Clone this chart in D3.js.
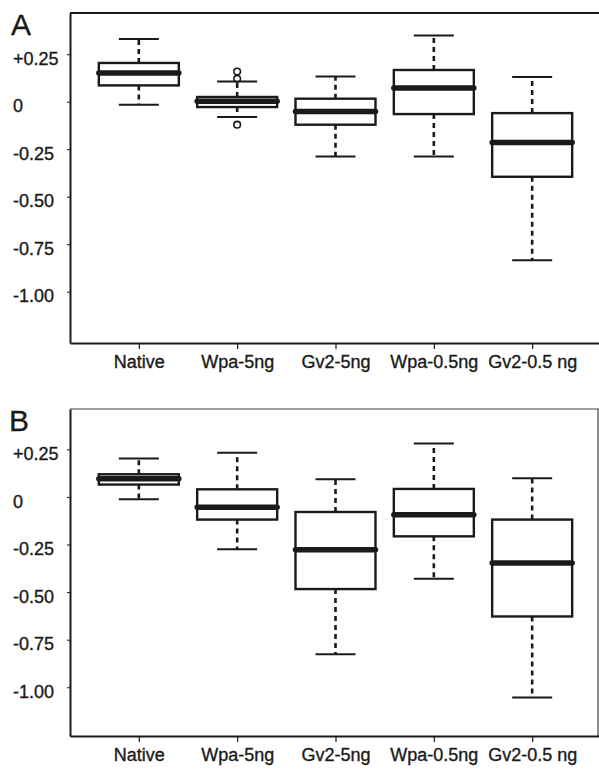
<!DOCTYPE html>
<html lang="en">
<head>
<meta charset="UTF-8">
<title>Boxplots A/B</title>
<style>
html,body{margin:0; width:599px; height:771px; overflow:hidden; background:#fff; font-family:Arial, "Liberation Sans", Helvetica, sans-serif;}
svg{display:block;}
</style>
</head>
<body>
<svg width="599" height="771"></svg>
<script src="https://d3js.org/d3.v7.min.js"></script>
<script>
const categories = ["Native","Wpa-5ng","Gv2-5ng","Wpa-0.5ng","Gv2-0.5 ng"];
const tickValues = [0.25, 0, -0.25, -0.5, -0.75, -1];
const tickLabels = ["+0.25","0","-0.25","-0.50","-0.75","-1.00"];

// [lower whisker, Q1, median, Q3, upper whisker]
const statsA = [
  [-0.016, 0.086, 0.151, 0.204, 0.330],
  [-0.081, -0.028, 0.002, 0.025, 0.107],
  [-0.288, -0.121, -0.051, 0.016, 0.133],
  [-0.288, -0.065, 0.072, 0.167, 0.349],
  [-0.835, -0.395, -0.214, -0.060, 0.130]
];
const outliersA = [[], [0.159, 0.121, -0.121], [], [], []];

const statsB = [
  [-0.012, 0.065, 0.095, 0.119, 0.202],
  [-0.275, -0.119, -0.054, 0.040, 0.232],
  [-0.826, -0.484, -0.277, -0.079, 0.093],
  [-0.430, -0.207, -0.093, 0.042, 0.281],
  [-1.054, -0.628, -0.347, -0.119, 0.098]
];
const outliersB = [[], [], [], [], []];

const svg = d3.select("svg");
const ink = "#1a1a1a";
const font = "Arial, 'Liberation Sans', sans-serif";

// R-style x limits: 0.5..5.5 widened by 4%
const x = d3.scaleLinear().domain([0.3, 5.7]).range([70, 601]);
const boxHalf = 40, capHalf = 20;

function panel(letter, stats, outliers, top, bottom, yDomain, rightBorder){
  const y = d3.scaleLinear().domain(yDomain).range([bottom, top]);
  const g = svg.append("g");

  g.append("text").attr("x", letter === "A" ? 11 : 9).attr("y", top + 22)
    .attr("fill", ink).attr("stroke", ink).attr("stroke-width", 0.3)
    .style("font-size", "30px").style("font-family", font).text(letter);

  // frame
  g.append("line").attr("x1", x.range()[0]).attr("x2", x.range()[1])
    .attr("y1", top).attr("y2", top)
    .attr("stroke", rightBorder ? "#444" : ink).attr("stroke-width", rightBorder ? 1.2 : 2);
  if(rightBorder){
    g.append("line").attr("x1", 598).attr("x2", 598).attr("y1", top).attr("y2", bottom)
      .attr("stroke", "#444").attr("stroke-width", 1.2);
  }

  const yAxis = g.append("g").attr("transform", `translate(${x.range()[0]},0)`)
    .call(d3.axisLeft(y).tickValues(tickValues).tickSize(3).tickSizeOuter(0)
      .tickFormat((d, i) => tickLabels[i]));
  yAxis.select(".domain").attr("stroke", ink).attr("stroke-width", 2);
  yAxis.selectAll(".tick line").attr("stroke", ink).attr("stroke-width", 1);
  yAxis.selectAll("text").attr("fill", ink).attr("stroke", ink).attr("stroke-width", 0.35)
    .attr("text-anchor", "start").attr("x", -57).attr("dy", "0.56em")
    .style("font-size", "18px").style("font-family", font);

  const xAxis = g.append("g").attr("transform", `translate(0,${bottom})`)
    .call(d3.axisBottom(x).tickValues([1,2,3,4,5]).tickSize(6).tickSizeOuter(0).tickPadding(6)
      .tickFormat((d, i) => categories[i]));
  xAxis.select(".domain").attr("stroke", ink).attr("stroke-width", 2);
  xAxis.selectAll(".tick line").attr("stroke", ink).attr("stroke-width", 1.2);
  xAxis.selectAll("text").attr("fill", ink).attr("stroke", ink).attr("stroke-width", 0.35)
    .style("font-size", "18px").style("font-family", font);

  const box = g.selectAll("g.box").data(stats).join("g").attr("class", "box")
    .attr("transform", (d, i) => `translate(${x(i + 1)},0)`);

  // whiskers
  box.append("line").attr("y1", d => y(d[3])).attr("y2", d => y(d[4]))
    .attr("stroke", ink).attr("stroke-width", 2.6).attr("stroke-dasharray", "5,4");
  box.append("line").attr("y1", d => y(d[1])).attr("y2", d => y(d[0]))
    .attr("stroke", ink).attr("stroke-width", 2.6).attr("stroke-dasharray", "5,4");
  // staples
  [0, 4].forEach(k => {
    box.append("line").attr("x1", -capHalf).attr("x2", capHalf)
      .attr("y1", d => y(d[k])).attr("y2", d => y(d[k]))
      .attr("stroke", ink).attr("stroke-width", 2);
  });
  // box
  box.append("rect").attr("x", -boxHalf).attr("width", boxHalf * 2)
    .attr("y", d => y(d[3])).attr("height", d => y(d[1]) - y(d[3]))
    .attr("fill", "#fff").attr("stroke", ink).attr("stroke-width", 2.4);
  // median
  box.append("line").attr("x1", -boxHalf).attr("x2", boxHalf)
    .attr("y1", d => y(d[2])).attr("y2", d => y(d[2]))
    .attr("stroke", ink).attr("stroke-width", 5.5).attr("stroke-linecap", "round");

  // outliers
  box.each(function(d, i){
    d3.select(this).selectAll("circle").data(outliers[i]).join("circle")
      .attr("cx", 0).attr("cy", v => y(v)).attr("r", 3.3)
      .attr("fill", "none").attr("stroke", ink).attr("stroke-width", 1.6);
  });
}

panel("A", statsA, outliersA, 13, 343, [-1.27, 0.467], false);
panel("B", statsB, outliersB, 409, 736, [-1.256, 0.462], true);
</script>
</body>
</html>
